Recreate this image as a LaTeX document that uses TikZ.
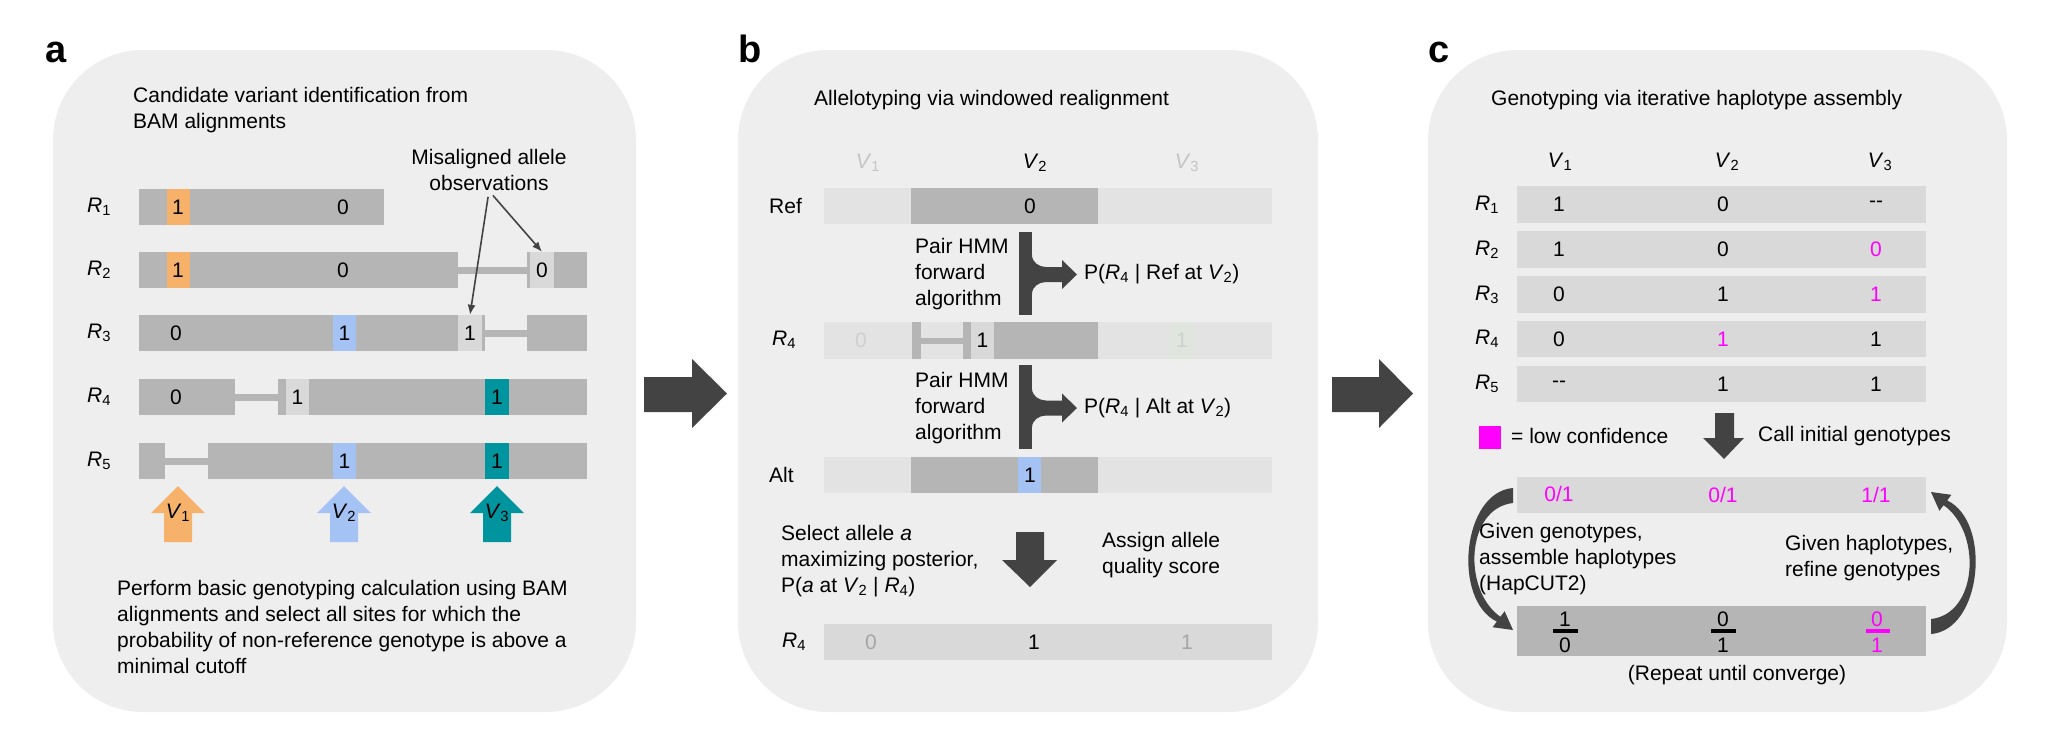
\documentclass[tikz,border=0pt]{standalone}
\usepackage{fontspec}
\setmainfont{Liberation Sans}
\usetikzlibrary{arrows.meta}

\definecolor{panelgray}{HTML}{EEEEEE}
\definecolor{readgray}{HTML}{B5B5B5}
\definecolor{boxgray}{HTML}{D9D9D9}
\definecolor{palegray}{HTML}{E3E3E3}
\definecolor{fadegray}{HTML}{C4C4C4}
\definecolor{ghostgray}{HTML}{CFCFCF}
\definecolor{ghostgreen}{HTML}{E0E6DE}
\definecolor{varone}{HTML}{F6B26B}
\definecolor{vartwo}{HTML}{A4C2F4}
\definecolor{varthree}{HTML}{00959E}
\definecolor{darkarrow}{HTML}{434343}
\definecolor{lowconf}{HTML}{FF00FF}

\newcommand{\rlab}[1]{\textit{R}\textsubscript{#1}}
\newcommand{\vlab}[1]{\textit{V}\textsubscript{#1}}

\tikzset{
  every node/.style={font=\fontsize{21}{26}\selectfont, inner sep=0pt},
  panel/.style={fill=panelgray, rounded corners=90pt},
  plabel/.style={anchor=base west, font=\fontsize{38}{40}\selectfont\bfseries},
  txt/.style={anchor=west, align=left},
  obsbox/.style={fill=boxgray, minimum width=24pt, minimum height=36pt},
  link/.style={draw=readgray, line width=7pt},
  pointer/.style={draw=darkarrow, line width=1.6pt, -{Latex[length=10pt,width=8pt]}},
}

\begin{document}
\begin{tikzpicture}[x=1pt,y=-1pt]
\useasboundingbox (0,0) rectangle (2048,732);
\fill[panel] (53,50) rectangle (636,712);
\fill[panel] (738,50) rectangle (1318,712);
\fill[panel] (1428,50) rectangle (2007,712);
\draw (45,62) node[plabel] (LabA) {a};
\draw (738,62) node[plabel] (LabB) {b};
\draw (1428,62) node[plabel] (LabC) {c};

% a
\draw (133,110) node[txt] (TitleA) {Candidate variant identification from\\BAM alignments};
\draw (489,170) node[align=center] (Mis) {Misaligned allele\\observations};
	\draw (87,207) node[anchor=west] (ReadA1) {\rlab{1}};
		\fill[readgray] (139,189) rectangle (384,225);
		\fill[varone] (167,189) rectangle (190,225);
		\draw (178,207) node (A1V1) {1};
		\draw (343,207) node (A1V2) {0};
	\draw (87,270) node[anchor=west] (ReadA2) {\rlab{2}};
		\fill[readgray] (139,252) rectangle (458,288);
		\fill[varone] (167,252) rectangle (190,288);
		\draw[link] (458,270) -- (527,270);
		\fill[readgray] (527,252) rectangle (587,288);
		\node[obsbox] (A2Obs) at (542,270) {0};
		\draw (178,270) node (A2V1) {1};
		\draw (343,270) node (A2V2) {0};
	\draw (87,333) node[anchor=west] (ReadA3) {\rlab{3}};
		\fill[readgray] (139,315) rectangle (485,351);
		\fill[vartwo] (333,315) rectangle (356,351);
		\node[obsbox] (A3Obs) at (470,333) {1};
		\draw[link] (485,333) -- (527,333);
		\fill[readgray] (527,315) rectangle (587,351);
		\draw (176,333) node (A3V1) {0};
		\draw (344.5,333) node (A3V2) {1};
	\draw (87,397) node[anchor=west] (ReadA4) {\rlab{4}};
		\fill[readgray] (139,379) rectangle (235,415);
		\draw[link] (235,397) -- (278,397);
		\fill[readgray] (278,379) rectangle (587,415);
		\node[obsbox, minimum width=23pt] (A4Obs) at (297.5,397) {1};
		\fill[varthree] (485,379) rectangle (509,415);
		\draw (176,397) node (A4V1) {0};
		\draw (497,397) node (A4V3) {1};
	\draw (87,461) node[anchor=west] (ReadA5) {\rlab{5}};
		\fill[readgray] (139,443) rectangle (165,479);
		\draw[link] (165,461) -- (208,461);
		\fill[readgray] (208,443) rectangle (587,479);
		\fill[vartwo] (333,443) rectangle (356,479);
		\fill[varthree] (485,443) rectangle (509,479);
		\draw (344.5,461) node (A5V2) {1};
		\draw (497,461) node (A5V3) {1};
\fill[varone] (164,542) -- (164,513) -- (151,513) -- (178,486) -- (205,513) -- (192,513) -- (192,542) -- cycle;
\fill[vartwo] (330,542) -- (330,513) -- (317,513) -- (344,486) -- (371,513) -- (358,513) -- (358,542) -- cycle;
\fill[varthree] (483,542) -- (483,513) -- (470,513) -- (497,486) -- (524,513) -- (511,513) -- (511,542) -- cycle;
\draw (178,513) node (SiteV1) {\vlab{1}};
\draw (344,513) node (SiteV2) {\vlab{2}};
\draw (497,513) node (SiteV3) {\vlab{3}};
\draw (117,627) node[txt] (NoteA) {Perform basic genotyping calculation using BAM\\alignments and select all sites for which the\\probability of non-reference genotype is above a\\minimal cutoff};

\draw[pointer, shorten <=6pt] (Mis.south) -- (A3Obs.north);
\draw[pointer, shorten <=6pt] (Mis.south) -- (A2Obs.north);

\fill[darkarrow] (644,377) -- (692,377) -- (692,359) -- (727,393.5) -- (692,428) -- (692,412) -- (644,412) -- cycle;

% b
\draw (814,100) node[anchor=west] (TitleB) {Allelotyping via windowed realignment};
\draw (868,163) node[text=fadegray] (HeadB1) {\vlab{1}};
\draw (1035,163) node (HeadB2) {\vlab{2}};
\draw (1187,163) node[text=fadegray] (HeadB3) {\vlab{3}};
	\draw (769,206) node[anchor=west] (RefLab) {Ref};
		\fill[palegray] (824,188) rectangle (1272,224);
		\fill[readgray] (911,188) rectangle (1098,224);
		\draw (1030,206) node (RefV2) {0};
	\fill[darkarrow] (1019,232) rectangle (1032,315);
	\fill[darkarrow] (1032,255) to[out=-90,in=180] (1046,267) -- (1062,267) -- (1062,260) -- (1077,274.5) -- (1062,289) -- (1062,282) -- (1046,282) to[out=180,in=90] (1032,294) -- cycle;
	\draw (915,274) node[txt] (HmmRef) {Pair HMM\\forward\\algorithm};
	\draw (1084,274) node[anchor=west] (ProbRef) {P(\rlab{4} | Ref at \vlab{2})};
	\draw (772,340) node[anchor=west] (ReadB4) {\rlab{4}};
		\fill[palegray] (824,322) rectangle (1272,359);
		\fill[readgray] (912,322) rectangle (921,359);
		\draw[link, line width=6pt] (921,340.5) -- (963,340.5);
		\fill[readgray] (963,322) rectangle (1098,359);
		\fill[boxgray] (971,322) rectangle (994,359);
		\fill[ghostgreen] (1170,322) rectangle (1194,359);
		\draw (861,340.5) node[text=ghostgray] (B4V1) {0};
		\draw (982.5,340.5) node (B4V2) {1};
		\draw (1182,340.5) node[text=ghostgray] (B4V3) {1};
	\fill[darkarrow] (1019,365) rectangle (1032,449);
	\fill[darkarrow] (1032,388.5) to[out=-90,in=180] (1046,400.5) -- (1062,400.5) -- (1062,393.5) -- (1077,408) -- (1062,422.5) -- (1062,415.5) -- (1046,415.5) to[out=180,in=90] (1032,427.5) -- cycle;
	\draw (915,408) node[txt] (HmmAlt) {Pair HMM\\forward\\algorithm};
	\draw (1084,408) node[anchor=west] (ProbAlt) {P(\rlab{4} | Alt at \vlab{2})};
	\draw (769,475) node[anchor=west] (AltLab) {Alt};
		\fill[palegray] (824,457) rectangle (1272,493);
		\fill[readgray] (911,457) rectangle (1098,493);
		\fill[vartwo] (1018,457) rectangle (1041,493);
		\draw (1030,475) node (AltV2) {1};
	\fill[darkarrow] (1016,532) -- (1044,532) -- (1044,560) -- (1057,560) -- (1030,587) -- (1002,560) -- (1016,560) -- cycle;
	\draw (781,561) node[txt] (SelectTxt) {Select allele \textit{a}\\maximizing posterior,\\P(\textit{a} at \vlab{2} | \rlab{4})};
	\draw (1102,555) node[txt] (QualTxt) {Assign allele\\quality score};
	\draw (782,642) node[anchor=west] (CallB4) {\rlab{4}};
		\fill[boxgray] (824,624) rectangle (1272,660);
		\draw (871,642) node[text=black!35] (CallV1) {0};
		\draw (1034,642) node (CallV2) {1};
		\draw (1187,642) node[text=black!35] (CallV3) {1};

\fill[darkarrow] (1332,377) -- (1379,377) -- (1379,359) -- (1413,393.5) -- (1379,428) -- (1379,412) -- (1332,412) -- cycle;

% c
\draw (1491,100) node[anchor=west] (TitleC) {Genotyping via iterative haplotype assembly};
\draw (1560,162) node (HeadC1) {\vlab{1}};
\draw (1727,162) node (HeadC2) {\vlab{2}};
\draw (1880,162) node (HeadC3) {\vlab{3}};
	\fill[boxgray] (1517,186) rectangle (1926,223);
	\draw (1475,204.5) node[anchor=west] (ReadC1) {\rlab{1}};
		\draw (1559,204.5) node {1};
		\draw (1723,204.5) node {0};
		\draw (1876,204.5) node {-{}-};
	\fill[boxgray] (1517,231) rectangle (1926,268);
	\draw (1475,249.5) node[anchor=west] (ReadC2) {\rlab{2}};
		\draw (1559,249.5) node {1};
		\draw (1723,249.5) node {0};
		\draw (1876,249.5) node[text=lowconf] {0};
	\fill[boxgray] (1517,276) rectangle (1926,313);
	\draw (1475,294.5) node[anchor=west] (ReadC3) {\rlab{3}};
		\draw (1559,294.5) node {0};
		\draw (1723,294.5) node {1};
		\draw (1876,294.5) node[text=lowconf] {1};
	\fill[boxgray] (1517,321) rectangle (1926,357);
	\draw (1475,339) node[anchor=west] (ReadC4) {\rlab{4}};
		\draw (1559,339) node {0};
		\draw (1723,339) node[text=lowconf] {1};
		\draw (1876,339) node {1};
	\fill[boxgray] (1517,366) rectangle (1926,402);
	\draw (1475,384) node[anchor=west] (ReadC5) {\rlab{5}};
		\draw (1559,384) node {-{}-};
		\draw (1723,384) node {1};
		\draw (1876,384) node {1};
\fill[lowconf] (1479,426) rectangle (1501,449);
\draw (1511,436) node[anchor=west] (LowConf) {= low confidence};
\fill[darkarrow] (1715,413) -- (1734,413) -- (1734,438) -- (1744,438) -- (1724,459) -- (1703,438) -- (1715,438) -- cycle;
\draw (1758,436) node[anchor=west] (CallTxt) {Call initial genotypes};
\fill[boxgray] (1517,477) rectangle (1926,513);
	\draw (1559,494) node[text=lowconf] (Geno1) {0/1};
	\draw (1723,495) node[text=lowconf] (Geno2) {0/1};
	\draw (1876,495) node[text=lowconf] (Geno3) {1/1};
\draw (1479,559.5) node[txt] (AssembleTxt) {Given genotypes,\\assemble haplotypes\\(HapCUT2)};
\draw (1785,558.5) node[txt] (RefineTxt) {Given haplotypes,\\refine genotypes};
\fill[readgray] (1517,606) rectangle (1926,656);
	\draw (1565,619) node (Hap1Top) {1};
	\draw (1565,645) node (Hap1Bot) {0};
	\draw[line width=4pt] (1553,631) -- (1578,631);
	\draw (1723,619) node (Hap2Top) {0};
	\draw (1723,645) node (Hap2Bot) {1};
	\draw[line width=4pt] (1711,631) -- (1736,631);
	\draw (1877,619) node[text=lowconf] (Hap3Top) {0};
	\draw (1877,645) node[text=lowconf] (Hap3Bot) {1};
	\draw[lowconf, line width=4pt] (1866,631) -- (1890,631);
\draw (1737,675) node (RepeatTxt) {(Repeat until converge)};
\fill[darkarrow] (1513,488) .. controls (1462,492) and (1452,600) .. (1496.8,621.6) -- (1492.6,627.2) -- (1513,630) -- (1504.6,611.2) -- (1500.4,616.8) .. controls (1462,590) and (1466,508) .. (1513,503) -- cycle;
\fill[darkarrow] (1931,634) .. controls (1982,630) and (1992,522) .. (1947.2,500.4) -- (1951.4,494.8) -- (1931,492) -- (1939.4,510.8) -- (1943.6,505.2) .. controls (1982,532) and (1978,614) .. (1931,619) -- cycle;
\end{tikzpicture}
\end{document}
